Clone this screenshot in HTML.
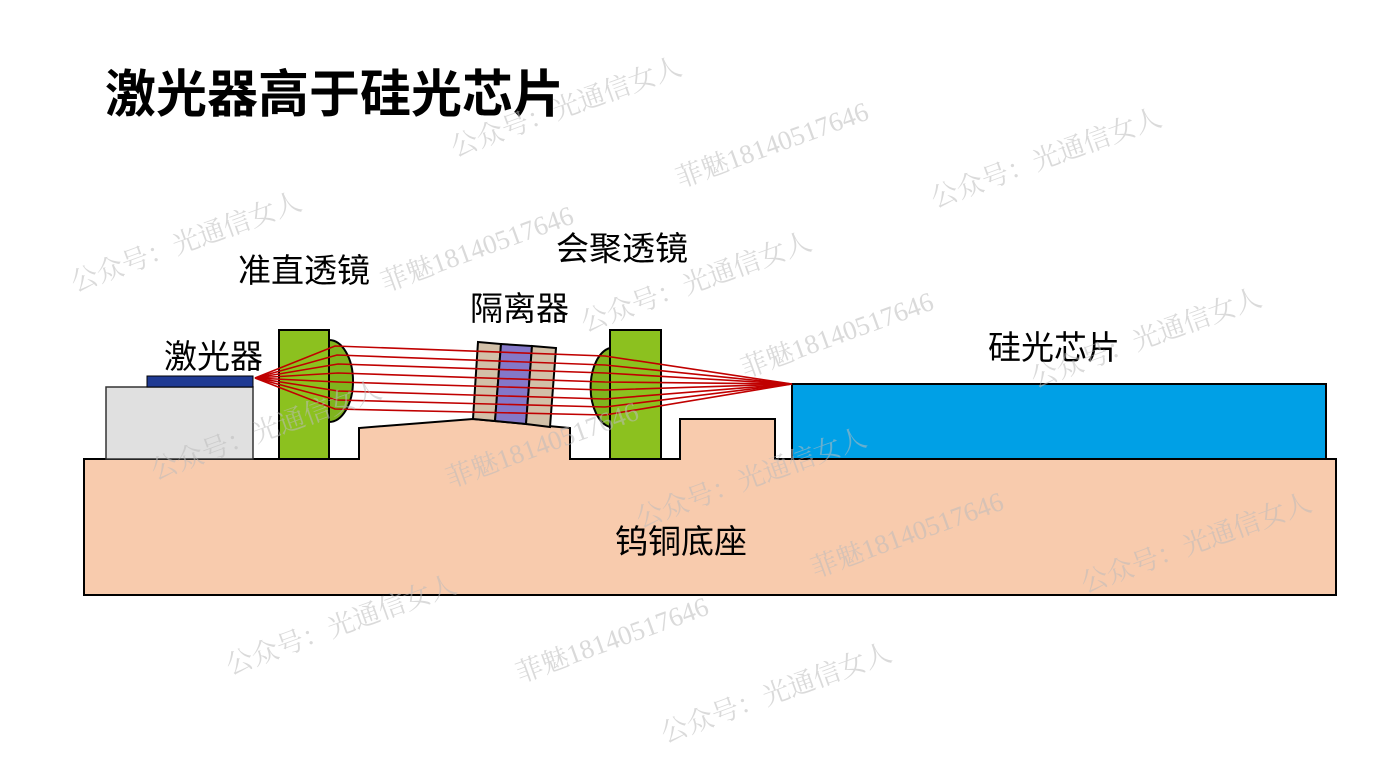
<!DOCTYPE html>
<html><head><meta charset="utf-8"><style>
body{margin:0;background:#fff;}
svg{display:block;font-family:"Liberation Sans","Noto Sans CJK SC",sans-serif;}
</style></head><body>
<svg width="1384" height="779" viewBox="0 0 1384 779" xmlns="http://www.w3.org/2000/svg">
<rect width="1384" height="779" fill="#fff"/>
<text x="105" y="112" font-size="51" font-weight="bold" fill="#000">激光器高于硅光芯片</text>
<polygon points="84,459 359,459 359,428 473,419 570,428 570,459 680,459 680,419 775,419 775,459 1336,459 1336,595 84,595" fill="#f8cbad" stroke="#000" stroke-width="2"/>
<rect x="106" y="387" width="147" height="72" fill="#e0e0e0" stroke="#333" stroke-width="1.5"/>
<rect x="147" y="376" width="106" height="11" fill="#1f3a93" stroke="#000" stroke-width="1"/>
<path d="M329,340 A24,41 0 0 1 329,422 Z" fill="#7fb41e" stroke="#000" stroke-width="2"/>
<rect x="279" y="330" width="50" height="129" fill="#8cc11f" stroke="#000" stroke-width="2"/>
<path d="M610,348 A23,40 0 0 0 610,427 Z" fill="#7fb41e" stroke="#000" stroke-width="2"/>
<rect x="610" y="330" width="51" height="129" fill="#8cc11f" stroke="#000" stroke-width="2"/>
<polygon points="478,342 501,344 495,421 473,419" fill="#d2c0a8" stroke="#000" stroke-width="2"/>
<polygon points="501,344 532,346 526,424 495,421" fill="#8478c8" stroke="#000" stroke-width="2"/>
<polygon points="532,346 556,348 550,427 526,424" fill="#d2c0a8" stroke="#000" stroke-width="2"/>
<rect x="792" y="384" width="534" height="75" fill="#00a0e6" stroke="#000" stroke-width="2"/>
<g stroke="#c00000" stroke-width="1.6" fill="none">
<path d="M255,378 L335,346 L605,356 L792,384"/>
<path d="M255,378 L337,355 L605,365 L792,384"/>
<path d="M255,378 L338,364 L605,373 L792,384"/>
<path d="M255,378 L338,373 L605,382 L792,384"/>
<path d="M255,378 L338,382 L605,390 L792,384"/>
<path d="M255,378 L338,391 L605,399 L792,384"/>
<path d="M255,378 L337,400 L605,407 L792,384"/>
<path d="M255,378 L335,409 L605,415 L792,384"/>
</g>
<g font-size="33" fill="#000">
<text x="238" y="282">准直透镜</text>
<text x="164" y="368">激光器</text>
<text x="470" y="320">隔离器</text>
<text x="556" y="260">会聚透镜</text>
<text x="988" y="359">硅光芯片</text>
<text x="615" y="553">钨铜底座</text>
</g>
<g font-size="27" fill="#bbb" fill-opacity="0.55" font-family="'Liberation Serif','Noto Serif CJK SC',serif">
<text transform="translate(455,157) rotate(-20)">公众号：光通信女人</text>
<text transform="translate(680,188) rotate(-20)">菲魅18140517646</text>
<text transform="translate(935,208) rotate(-20)">公众号：光通信女人</text>
<text transform="translate(75,292) rotate(-20)">公众号：光通信女人</text>
<text transform="translate(385,292) rotate(-20)">菲魅18140517646</text>
<text transform="translate(585,332) rotate(-20)">公众号：光通信女人</text>
<text transform="translate(745,378) rotate(-20)">菲魅18140517646</text>
<text transform="translate(1035,388) rotate(-20)">公众号：光通信女人</text>
<text transform="translate(155,480) rotate(-20)">公众号：光通信女人</text>
<text transform="translate(450,488) rotate(-20)">菲魅18140517646</text>
<text transform="translate(640,528) rotate(-20)">公众号：光通信女人</text>
<text transform="translate(815,578) rotate(-20)">菲魅18140517646</text>
<text transform="translate(1085,593) rotate(-20)">公众号：光通信女人</text>
<text transform="translate(230,675) rotate(-20)">公众号：光通信女人</text>
<text transform="translate(520,683) rotate(-20)">菲魅18140517646</text>
<text transform="translate(665,743) rotate(-20)">公众号：光通信女人</text>
</g>
</svg>
</body></html>
